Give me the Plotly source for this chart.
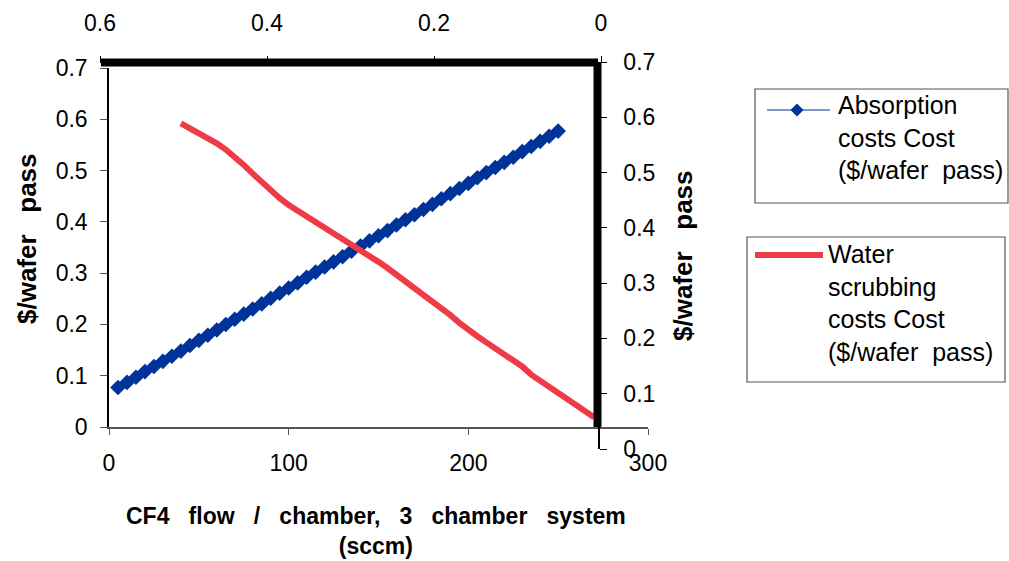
import plotly.graph_objects as go

W, H = 1009, 561

# CF4 flow per chamber (sccm) and cost per wafer pass
absorption_flow = [5, 10, 15, 20, 25, 30, 35, 40, 45, 50, 55, 60, 65, 70, 75, 80, 85, 90, 95, 100,
                   105, 110, 115, 120, 125, 130, 135, 140, 145, 150, 155, 160, 165, 170, 175, 180,
                   185, 190, 195, 200, 205, 210, 215, 220, 225, 230, 235, 240, 245, 250]
absorption_cost = [0.077, 0.087, 0.097, 0.108, 0.118, 0.128, 0.138, 0.148, 0.159, 0.169, 0.179,
                   0.189, 0.200, 0.210, 0.220, 0.230, 0.240, 0.251, 0.261, 0.271, 0.281, 0.292,
                   0.302, 0.312, 0.322, 0.332, 0.343, 0.353, 0.363, 0.373, 0.383, 0.394, 0.404,
                   0.414, 0.424, 0.434, 0.445, 0.455, 0.465, 0.475, 0.486, 0.496, 0.506, 0.516,
                   0.526, 0.537, 0.547, 0.557, 0.567, 0.577]

scrub_flow = [40, 45, 50, 55, 60, 65, 70, 75, 80, 85, 90, 95, 100, 105, 110, 115, 120, 125, 130,
              135, 140, 145, 150, 155, 160, 165, 170, 175, 180, 185, 190, 195, 200, 205, 210, 215,
              220, 225, 230, 235, 240, 245, 250, 255, 260, 265, 270]
scrub_cost = [0.592, 0.583, 0.573, 0.563, 0.553, 0.541, 0.527, 0.511, 0.494, 0.477, 0.461, 0.446,
              0.433, 0.422, 0.412, 0.402, 0.391, 0.379, 0.367, 0.356, 0.345, 0.334, 0.322, 0.310,
              0.297, 0.284, 0.272, 0.259, 0.246, 0.232, 0.218, 0.203, 0.189, 0.177, 0.165, 0.154,
              0.143, 0.131, 0.118, 0.102, 0.090, 0.080, 0.069, 0.057, 0.044, 0.031, 0.019]

bottom_ticks = [0, 100, 200, 300]
top_ticks = [0.6, 0.4, 0.2, 0]
cost_ticks = [0, 0.1, 0.2, 0.3, 0.4, 0.5, 0.6, 0.7]

absorption_name = "Absorption<br>costs Cost<br>($/wafer&nbsp; pass)"
scrub_name = "Water<br>scrubbing<br>costs Cost<br>($/wafer&nbsp; pass)"
cost_title = "<b>$/wafer&nbsp;&nbsp; pass</b>"
flow_title = ("<b>CF4&nbsp;&nbsp; flow&nbsp;&nbsp; /&nbsp;&nbsp; chamber,&nbsp;&nbsp; 3&nbsp;&nbsp; "
              "chamber&nbsp;&nbsp; system<br>(sccm)</b>")

BLUE = "#003399"
RED = "#EE3B45"
FONT = "Liberation Sans, Arial, sans-serif"


def px(x):
    return x / W


def py(y):
    return 1 - y / H


fig = go.Figure()
fig.add_trace(go.Scatter(
    x=absorption_flow, y=absorption_cost, mode="lines+markers",
    line=dict(color=BLUE, width=1),
    marker=dict(symbol="diamond", size=12, color=BLUE, line=dict(width=0)),
    name="Absorption costs Cost ($/wafer pass)", showlegend=False,
    xaxis="x", yaxis="y"))
fig.add_trace(go.Scatter(
    x=scrub_flow, y=scrub_cost, mode="lines",
    line=dict(color=RED, width=6),
    name="Water scrubbing costs Cost ($/wafer pass)", showlegend=False,
    xaxis="x", yaxis="y"))
# secondary axes pair (top / right); the helper point only registers the subplot
fig.add_trace(go.Scatter(
    x=[0], y=[0], mode="markers", marker=dict(opacity=0), hoverinfo="skip",
    showlegend=False, xaxis="x2", yaxis="y2"))

tickfont = dict(family=FONT, size=23, color="#000")

fig.update_layout(
    width=W, height=H,
    margin=dict(l=0, r=0, t=0, b=0, autoexpand=False),
    paper_bgcolor="white", plot_bgcolor="rgba(0,0,0,0)",
    font=dict(family=FONT, color="#000"),
    xaxis=dict(
        domain=[px(109), px(648)], range=[0, 300], anchor="y", automargin=False,
        tickvals=bottom_ticks, ticks="outside", ticklen=6, tickcolor="#555",
        showline=True, linecolor="#555", linewidth=1.5, showgrid=False, zeroline=False,
        tickfont=tickfont, ticklabelstandoff=9),
    yaxis=dict(
        domain=[py(427), py(68)], range=[0, 0.7], anchor="x", automargin=False,
        tickvals=cost_ticks, ticks="outside", ticklen=7, tickcolor="#555",
        showline=True, linecolor="#000", linewidth=1.5, showgrid=False, zeroline=False,
        tickfont=tickfont, ticklabelstandoff=8),
    xaxis2=dict(
        domain=[px(100), px(601)], range=[0.6, 0], side="top",
        anchor="free", position=py(62), automargin=False,
        tickvals=top_ticks, ticks="outside", ticklen=6, tickcolor="#000",
        showline=True, linecolor="#000", linewidth=1, showgrid=False, zeroline=False,
        tickfont=tickfont, ticklabelstandoff=16),
    yaxis2=dict(
        domain=[py(449), py(62)], range=[0, 0.7], side="right",
        anchor="free", position=px(599), automargin=False,
        tickvals=cost_ticks, ticks="outside", ticklen=7, tickcolor="#000",
        showline=True, linecolor="#000", linewidth=1.5, showgrid=False, zeroline=False,
        tickfont=tickfont, ticklabelstandoff=12),
)

shapes = [
    # heavy frame along the secondary axes
    dict(type="line", xref="paper", yref="paper", x0=px(101), x1=px(598), y0=py(62.5), y1=py(62.5),
         line=dict(color="#000", width=8), layer="above"),
    dict(type="line", xref="paper", yref="paper", x0=px(597.5), x1=px(597.5), y0=py(62), y1=py(427),
         line=dict(color="#000", width=8), layer="above"),
    # legend boxes
    dict(type="rect", xref="paper", yref="paper", x0=px(755), x1=px(1008), y0=py(89), y1=py(203),
         line=dict(color="#555", width=1.2), fillcolor="white"),
    dict(type="rect", xref="paper", yref="paper", x0=px(747), x1=px(1005), y0=py(237), y1=py(382),
         line=dict(color="#555", width=1.2), fillcolor="white"),
    # legend keys
    dict(type="line", xref="paper", yref="paper", x0=px(767), x1=px(830), y0=py(110), y1=py(110),
         line=dict(color=BLUE, width=1)),
    dict(type="path", xref="paper", yref="paper",
         path=f"M {px(797)},{py(103.5)} L {px(803.5)},{py(110)} L {px(797)},{py(116.5)} L {px(790.5)},{py(110)} Z",
         fillcolor=BLUE, line=dict(width=0)),
    dict(type="line", xref="paper", yref="paper", x0=px(755), x1=px(823), y0=py(255), y1=py(255),
         line=dict(color=RED, width=6)),
]

annotations = [
    dict(text=absorption_name, x=px(836), y=py(89), xanchor="left", yanchor="top",
         align="left", font=dict(size=25)),
    dict(text=scrub_name, x=px(826), y=py(238), xanchor="left", yanchor="top",
         align="left", font=dict(size=25)),
    dict(text=cost_title, x=px(27), y=py(239), textangle=-90,
         xanchor="center", yanchor="middle", font=dict(size=26)),
    dict(text=cost_title, x=px(683), y=py(256), textangle=-90,
         xanchor="center", yanchor="middle", font=dict(size=26)),
    dict(text=flow_title, x=px(376), y=py(531), xanchor="center", yanchor="middle", align="center",
         font=dict(size=23)),
]
for a in annotations:
    a.update(xref="paper", yref="paper", showarrow=False)
    a["font"].update(family=FONT, color="#000")

fig.update_layout(shapes=shapes, annotations=annotations)
fig.write_html("out.html")
